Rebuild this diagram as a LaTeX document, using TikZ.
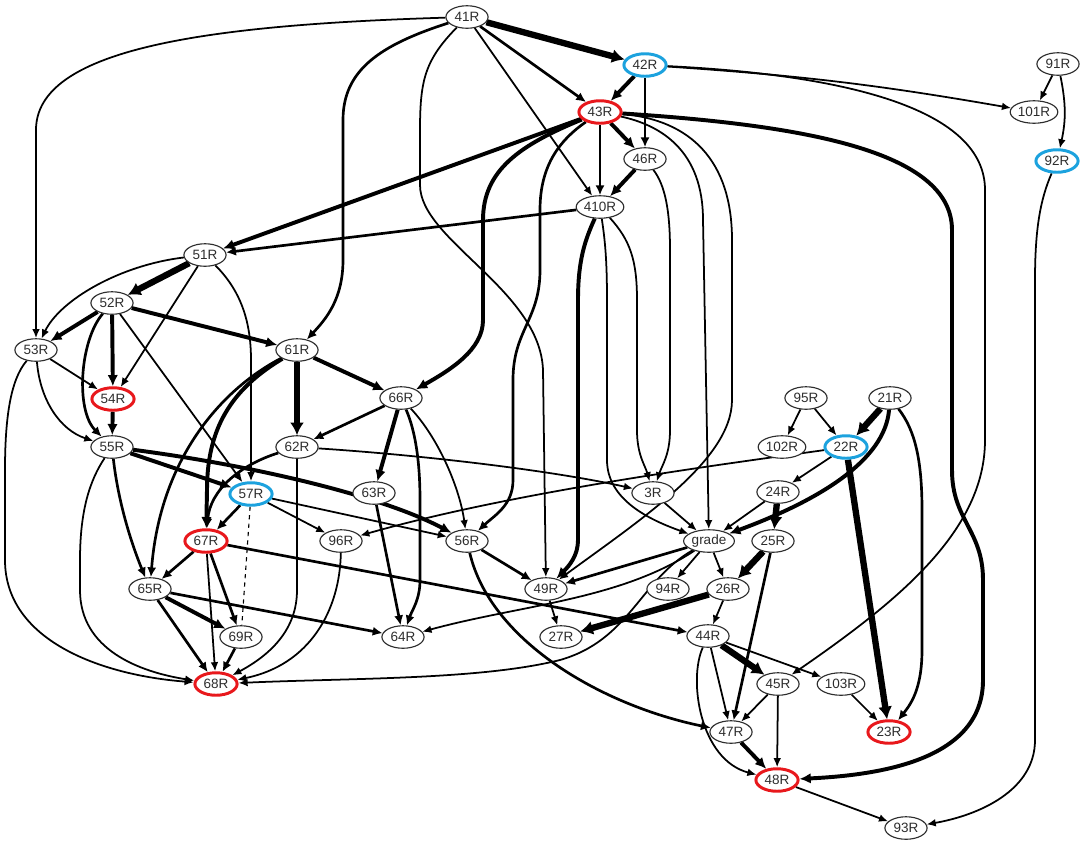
\documentclass[tikz,border=0pt]{standalone}
\usepackage{fontspec}
\setmainfont{Liberation Sans}
\usetikzlibrary{shapes.geometric, arrows.meta, backgrounds}
\definecolor{hitred}{RGB}{232,24,28}
\definecolor{hitblue}{RGB}{28,162,222}
\definecolor{ink}{RGB}{45,45,45}

\begin{document}
\begin{tikzpicture}[
  x=0.025cm, y=-0.025cm,
  var/.style={draw=ink, fill=white, line width=0.8pt, ellipse, minimum width=30pt, minimum height=16pt, inner xsep=0.5pt, inner ysep=1pt, font=\fontsize{9.6}{10}\selectfont, text=ink},
  redvar/.style={var, draw=hitred, line width=2.1pt},
  bluevar/.style={var, draw=hitblue, line width=2.1pt},
  e1/.style={line width=1.25pt, -{Latex[length=6.5pt, width=5.5pt]}},
  e2/.style={line width=1.9pt, -{Latex[length=7pt, width=6.5pt]}},
  e3/.style={line width=2.8pt, -{Latex[length=8pt, width=7.5pt]}},
  e4/.style={line width=4.5pt, -{Latex[length=9pt, width=10pt]}},
  dep/.style={line width=0.8pt, dashed}
]
\useasboundingbox (0,0) rectangle (1084,844);

\node[var] (r41) at (467,17) {41R};
\node[bluevar] (r42) at (645,65) {42R};
\node[redvar] (r43) at (600,112) {43R};
\node[var] (r46) at (645,159) {46R};
\node[var] (r410) at (600,207) {410R};
\node[var] (r91) at (1058,64) {91R};
\node[var] (r101) at (1034,112) {101R};
\node[bluevar] (r92) at (1057,161) {92R};
\node[var] (r51) at (205,255) {51R};
\node[var] (r52) at (112,303) {52R};
\node[var] (r53) at (36,350) {53R};
\node[var] (r61) at (297,350) {61R};
\node[redvar] (r54) at (113,399) {54R};
\node[var] (r55) at (112,447) {55R};
\node[var] (r66) at (401,398) {66R};
\node[var] (r62) at (297,447) {62R};
\node[var] (r95) at (806,398) {95R};
\node[var] (r21) at (890,398) {21R};
\node[var] (r102) at (782,447) {102R};
\node[bluevar] (r22) at (846,447) {22R};
\node[bluevar] (r57) at (251,494) {57R};
\node[var] (r63) at (374,493) {63R};
\node[var] (r3) at (653,493) {3R};
\node[var] (r24) at (778,492) {24R};
\node[redvar] (r67) at (206,541) {67R};
\node[var] (r96) at (341,541) {96R};
\node[var] (r56) at (467,541) {56R};
\node[var] (grade) at (709,541) {grade};
\node[var] (r25) at (773,541) {25R};
\node[var] (r65) at (150,589) {65R};
\node[var] (r49) at (546,589) {49R};
\node[var] (r94) at (668,589) {94R};
\node[var] (r26) at (728,589) {26R};
\node[var] (r69) at (241,637) {69R};
\node[var] (r64) at (403,637) {64R};
\node[var] (r27) at (561,637) {27R};
\node[var] (r44) at (708,636) {44R};
\node[redvar] (r68) at (216,684) {68R};
\node[var] (r45) at (778,684) {45R};
\node[var] (r103) at (841,684) {103R};
\node[var] (r47) at (731,732) {47R};
\node[redvar] (r23) at (889,732) {23R};
\node[redvar] (r48) at (777,780) {48R};
\node[var] (r93) at (906,828) {93R};

\begin{scope}[on background layer]
\fill[white] (0,0) rectangle (1084,844);

\draw[e1] (r41) .. controls (200,25) and (36,50) .. (36,130) -- (r53);
\draw[e4] (r41) -- (r42);
\draw[e2] (r41) -- (r43);
\draw[e1] (r41) -- (r410);
\draw[e2] (r41) .. controls (380,45) and (343,70) .. (343,120) -- (343,260) .. controls (343,300) and (325,320) .. (r61);
\draw[e1] (r41) .. controls (425,60) and (420,80) .. (420,130) -- (420,185) .. controls (420,240) and (540,290) .. (543,370) -- (r49);

\draw[e3] (r42) -- (r43);
\draw[e2] (r42) -- (r46);
\draw[e1] (r42) to[bend left=3] (r101);
\draw[e1] (r42) .. controls (850,75) and (985,110) .. (985,190) -- (985,440) .. controls (985,530) and (900,600) .. (r45);

\draw[e3] (r43) -- (r51);
\draw[e2] (r43) -- (r410);
\draw[e3] (r43) -- (r46);
\draw[e3] (r43) .. controls (800,125) and (952,150) .. (952,230) -- (952,470) .. controls (952,520) and (983,530) .. (983,580) -- (983,680) .. controls (983,760) and (880,775) .. (r48);
\draw[e3] (r43) .. controls (520,145) and (483,170) .. (483,220) -- (483,320) .. controls (483,350) and (450,370) .. (r66);
\draw[e2] (r43) .. controls (560,140) and (540,165) .. (540,210) -- (540,270) .. controls (540,320) and (513,330) .. (513,380) -- (513,480) .. controls (513,505) and (495,515) .. (r56);
\draw[e1] (r43) .. controls (660,125) and (703,150) .. (703,220) -- (grade);
\draw[e1] (r43) .. controls (690,120) and (732,160) .. (732,240) -- (732,400) .. controls (732,460) and (640,520) .. (r49);

\draw[e3] (r46) -- (r410);
\draw[e1] (r46) .. controls (665,185) and (670,210) .. (670,250) -- (670,430) .. controls (670,455) and (662,465) .. (r3);

\draw[e2] (r410) -- (r51);
\draw[e3] (r410) .. controls (585,240) and (578,260) .. (578,300) -- (578,540) .. controls (578,555) and (570,565) .. (r49);
\draw[e1] (r410) .. controls (605,240) and (607,260) .. (607,300) -- (607,460) .. controls (607,500) and (650,520) .. (grade);
\draw[e1] (r410) .. controls (630,240) and (637,260) .. (637,300) -- (637,430) .. controls (637,455) and (645,465) .. (r3);

\draw[e1] (r91) -- (r101);
\draw[e1] (r91) to[bend left=12] (r92);
\draw[e1] (r92) .. controls (1040,200) and (1035,230) .. (1035,280) -- (1035,740) .. controls (1035,790) and (980,815) .. (r93);

\draw[e4] (r51) -- (r52);
\draw[e1] (r51) .. controls (120,265) and (60,300) .. (r53);
\draw[e1] (r51) -- (r54);
\draw[e1] (r51) .. controls (240,290) and (251,320) .. (251,360) -- (r57);

\draw[e3] (r52) -- (r53);
\draw[e3] (r52) -- (r54);
\draw[e2] (r52) .. controls (80,340) and (75,410) .. (r55);
\draw[e3] (r52) -- (r61);
\draw[e1] (r52) -- (r57);

\draw[e1] (r53) -- (r54);
\draw[e1] (r53) .. controls (40,400) and (60,430) .. (r55);
\draw[e1] (r53) .. controls (10,380) and (5,420) .. (5,470) -- (5,560) .. controls (5,640) and (100,675) .. (r68);

\draw[e3] (r54) -- (r55);
\draw[e3] (r55) -- (r57);
\draw[e3] (r55) .. controls (250,465) and (380,495) .. (r56);
\draw[e2] (r55) .. controls (118,500) and (130,540) .. (r65);
\draw[e1] (r55) .. controls (90,480) and (80,510) .. (80,560) -- (80,590) .. controls (80,650) and (140,672) .. (r68);

\draw[e4] (r61) -- (r62);
\draw[e3] (r61) -- (r66);
\draw[e3] (r61) .. controls (230,390) and (207,430) .. (207,490) -- (r67);
\draw[e2] (r61) .. controls (220,390) and (160,460) .. (r65);

\draw[e2] (r62) .. controls (240,465) and (210,490) .. (r67);
\draw[e1] (r62) .. controls (420,455) and (550,470) .. (r3);
\draw[e1] (r62) -- (297,590) .. controls (297,630) and (270,655) .. (r68);

\draw[e2] (r66) -- (r62);
\draw[e3] (r66) -- (r63);
\draw[e2] (r66) .. controls (415,430) and (420,460) .. (420,500) -- (420,580) .. controls (420,600) and (412,610) .. (r64);
\draw[e1] (r66) .. controls (440,440) and (460,490) .. (r56);
\draw[e2] (r63) -- (r64);

\draw[e2] (r57) -- (r67);
\draw[e1] (r57) -- (r96);
\draw[e1] (r57) -- (r56);
\draw[dep] (r57) -- (r69);

\draw[e2] (r56) -- (r49);
\draw[e2] (r56) .. controls (490,640) and (600,705) .. (r47);

\draw[e2] (r67) -- (r65);
\draw[e1] (r67) -- (r68);
\draw[e2] (r67) -- (r69);
\draw[e2] (r67) -- (r44);

\draw[e2] (r65) -- (r68);
\draw[e3] (r65) -- (r69);
\draw[e2] (r65) -- (r64);
\draw[e2] (r69) -- (r68);
\draw[e1] (r96) .. controls (340,610) and (310,665) .. (r68);

\draw[e2] (grade) -- (r49);
\draw[e1] (grade) .. controls (620,600) and (520,605) .. (r64);
\draw[e1] (grade) .. controls (640,580) and (630,640) .. (560,660) .. controls (480,680) and (350,678) .. (r68);
\draw[e1] (grade) -- (r94);
\draw[e1] (grade) -- (r26);
\draw[e1] (r3) -- (grade);

\draw[e4] (r21) -- (r22);
\draw[e3] (r21) .. controls (885,460) and (820,500) .. (grade);
\draw[e2] (r21) .. controls (915,430) and (922,460) .. (922,510) -- (922,650) .. controls (922,690) and (910,705) .. (r23);
\draw[e1] (r95) -- (r102);
\draw[e1] (r95) -- (r22);
\draw[e1] (r22) -- (r24);
\draw[e4] (r22) -- (r23);
\draw[e1] (r22) .. controls (740,462) and (520,490) .. (r96);

\draw[e1] (r24) -- (grade);
\draw[e4] (r24) -- (r25);
\draw[e4] (r25) -- (r26);
\draw[e2] (r25) -- (r47);
\draw[e4] (r26) -- (r27);
\draw[e1] (r26) -- (r44);
\draw[e1] (r49) -- (r27);
\draw[e4] (r44) -- (r45);
\draw[e1] (r44) -- (r103);
\draw[e1] (r44) -- (r47);
\draw[e1] (r44) .. controls (688,680) and (700,760) .. (r48);
\draw[e1] (r45) -- (r47);
\draw[e1] (r45) -- (r48);
\draw[e3] (r47) -- (r48);
\draw[e1] (r103) -- (r23);
\draw[e1] (r48) -- (r93);
\end{scope}

\end{tikzpicture}
\end{document}
